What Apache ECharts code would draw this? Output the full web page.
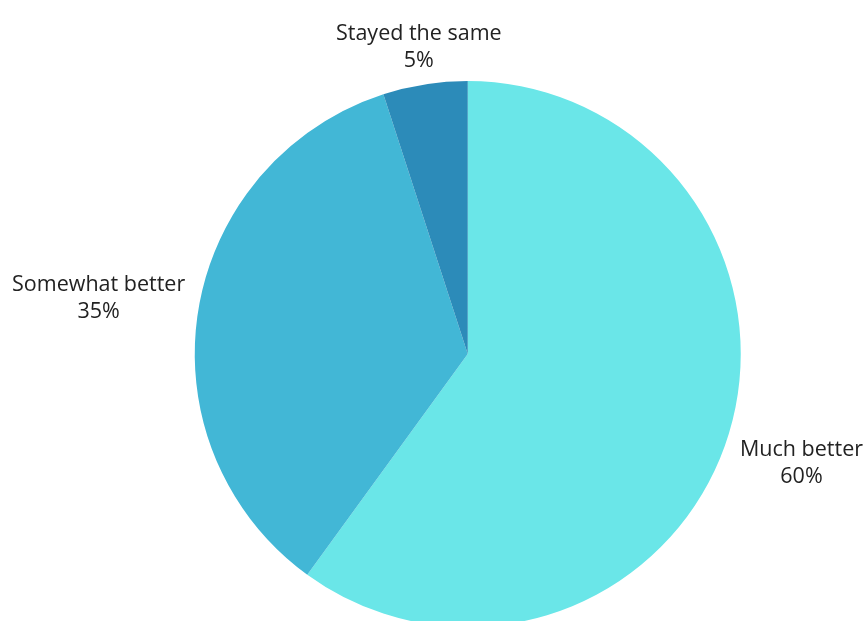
<!DOCTYPE html>
<html>
<head>
<meta charset="utf-8">
<script src="https://cdn.jsdelivr.net/npm/echarts@6/dist/echarts.min.js"></script>
<style>
  html, body { margin: 0; padding: 0; background: #fff; }
  #chart { width: 863px; height: 621px; }
</style>
</head>
<body>
<div id="chart"></div>
<script>
const categories = ['Much better', 'Somewhat better', 'Stayed the same'];
const shares = [60, 35, 5];
const colors = ['#6ae6e8', '#42b7d6', '#2c8bb9'];

// nudge for each outside label: [anchor share of width, vertical shift]
const labelNudge = [[0.5, 23], [0.5, -12], [1, -29]];

const mycharts = echarts.init(document.getElementById('chart'));
mycharts.setOption({
    animation: false,
    color: colors,
    series: [
        {
            type: 'pie',
            center: ['54.2%', '57%'],
            radius: 273,
            startAngle: 90,
            clockwise: true,
            data: categories.map((name, i) => ({ name: name, value: shares[i] })),
            label: {
                show: true,
                position: 'outside',
                formatter: '{b}\n{d}%',
                fontFamily: 'Open Sans',
                fontSize: 21.5,
                lineHeight: 27,
                color: '#222',
                overflow: 'none'
            },
            labelLine: { show: false, length: 8, length2: 0 },
            labelLayout: function (p) {
                const r = p.labelRect;
                const n = labelNudge[p.dataIndex];
                // keep the block where echarts put it, but center the two lines
                return {
                    x: r.x + r.width * n[0],
                    y: r.y + r.height / 2 + n[1],
                    align: 'center',
                    verticalAlign: 'middle'
                };
            },
            itemStyle: { borderWidth: 0 },
            emphasis: { disabled: true }
        }
    ]
});
</script>
</body>
</html>
